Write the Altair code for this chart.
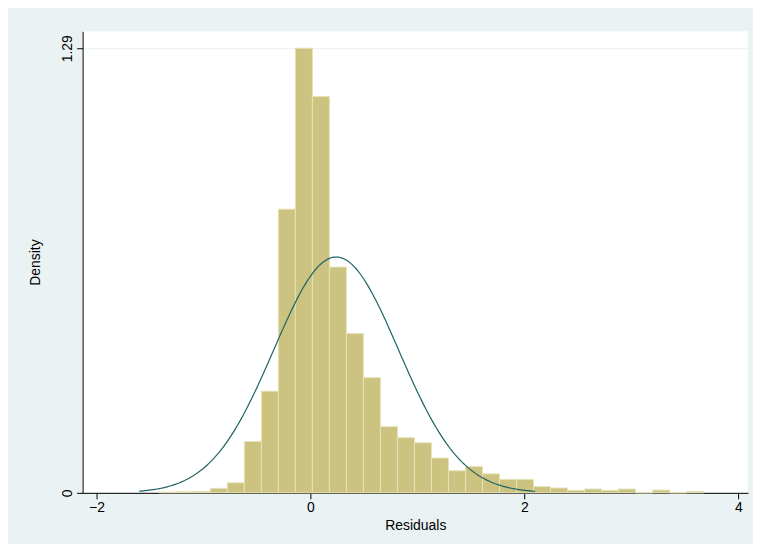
import altair as alt
import pandas as pd
import numpy as np

bin_width = 0.159
first_edge = -0.141
bin_index = list(range(-8, 24))
density = [0.002, 0.003, 0.004, 0.013, 0.029, 0.149, 0.295, 0.823, 1.29, 1.150, 0.655, 0.462,
           0.334, 0.192, 0.160, 0.145, 0.101, 0.064, 0.076, 0.055, 0.039, 0.039, 0.018, 0.014,
           0.007, 0.011, 0.007, 0.011, 0.0, 0.008, 0.0, 0.004]
n = min(len(bin_index), len(density))
bars = pd.DataFrame({
    "x0": [first_edge + k * bin_width for k in bin_index[:n]],
    "x1": [first_edge + (k + 1) * bin_width for k in bin_index[:n]],
    "d": density[:n],
})

mu, sd = 0.24, 0.583
xs = np.linspace(-1.6, 2.1, 200)
curve = pd.DataFrame({"x": xs, "y": np.exp(-0.5 * ((xs - mu) / sd) ** 2) / (sd * np.sqrt(2 * np.pi))})

xscale = alt.Scale(domain=[-2.13, 4.09], nice=False, zero=False)
yscale = alt.Scale(domain=[0, 1.339], nice=False)

common = dict(domainColor="#000", tickColor="#000", tickSize=6, labelFontSize=14, titleFontSize=14,
              labelColor="#000", titleColor="#000", labelFont="Arial", titleFont="Arial",
              titleFontWeight="normal")

hist = alt.Chart(bars).mark_rect(color="#cbc37f", stroke="#e6e2b8", strokeWidth=1).encode(
    x=alt.X("x0:Q", scale=xscale, axis=alt.Axis(values=[-2, 0, 2, 4], format="d", title="Residuals",
            grid=False, titlePadding=4, **common)),
    x2="x1:Q",
    y=alt.Y("d:Q", scale=yscale, axis=alt.Axis(values=[0, 1.29], title="Density",
            labelExpr="datum.value == 0 ? '0' : '1.29'", labelAngle=270, labelAlign="center",
            labelBaseline="bottom", grid=True, gridColor="#e8eeee", titlePadding=18, **common)),
    y2=alt.datum(0),
)
line = alt.Chart(curve).mark_line(color="#1f6363", strokeWidth=1.2).encode(
    x=alt.X("x:Q", scale=xscale), y=alt.Y("y:Q", scale=yscale))

chart = (hist + line).properties(
    width=669, height=464, background="#eaf2f3",
    autosize=alt.AutoSizeParams(type="none"),
    padding={"left": 75, "top": 22, "right": 5, "bottom": 50},
).configure_view(fill="white", stroke=None)

chart.save("out.html", embed_options={"renderer": "svg", "actions": False})
